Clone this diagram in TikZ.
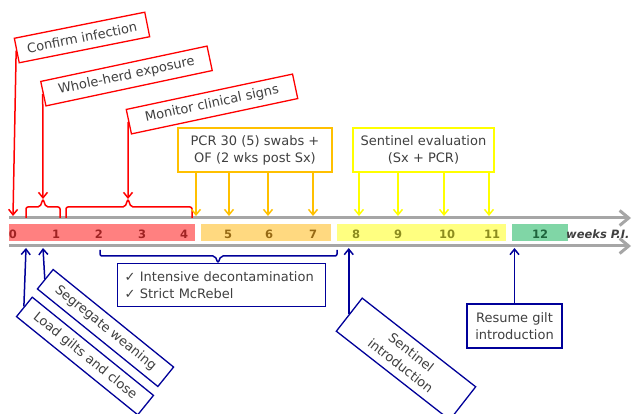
\documentclass[tikz,border=0pt]{standalone}
\usepackage{fontspec}
\setmainfont{DejaVu Sans}
\usetikzlibrary{arrows.meta, positioning}

\definecolor{darktext}{RGB}{64,64,64}
\definecolor{axisgray}{RGB}{166,166,166}
\definecolor{navy}{RGB}{0,0,153}
\definecolor{gold}{RGB}{255,192,0}
\definecolor{lemon}{RGB}{255,255,0}
\definecolor{bandred}{RGB}{255,128,128}
\definecolor{bandorange}{RGB}{255,217,128}
\definecolor{bandyellow}{RGB}{255,255,128}
\definecolor{bandgreen}{RGB}{128,214,166}
\definecolor{numred}{RGB}{160,35,35}
\definecolor{numorange}{RGB}{150,105,20}
\definecolor{numyellow}{RGB}{140,140,30}
\definecolor{numgreen}{RGB}{30,100,60}

\begin{document}
\begin{tikzpicture}[
    x=1pt, y=-1pt,
    >={Straight Barb[length=5.5pt,width=9pt]},
    font=\fontsize{13}{17}\selectfont,
    every node/.style={text=darktext},
    redbox/.style={draw=red, line width=1.3pt, fill=white, inner sep=2pt, minimum height=25pt},
    bluebox/.style={draw=navy, line width=1.3pt, fill=white, inner sep=2pt, align=center},
    goldbox/.style={draw=gold, line width=1.3pt, fill=white, align=center, minimum width=154pt, minimum height=44pt},
    lemonbox/.style={draw=lemon, line width=1.3pt, fill=white, align=center, minimum width=141pt, minimum height=44pt},
    weeknum/.style={font=\bfseries\fontsize{11.5}{13}\selectfont},
    axis/.style={draw=axisgray, line width=3pt, -{Straight Barb[length=9pt,width=15pt]}},
    callred/.style={->, red, line width=1.5pt},
    callgold/.style={->, gold, line width=1.5pt},
    calllemon/.style={->, lemon, line width=1.5pt},
    callnavy/.style={->, navy, line width=1.5pt},
    bracket/.style={line width=1.5pt, rounded corners=2pt}
  ]
    \useasboundingbox (0,0) rectangle (632,414);

    % week bands
    \fill[bandred]    (9,224)   rectangle (195,241);
    \fill[bandorange] (201,224) rectangle (331,241);
    \fill[bandyellow] (337,224) rectangle (506,241);
    \fill[bandgreen]  (512,224) rectangle (568,241);

    % week numbers
    \foreach \w/\x/\c in {0/13/numred, 1/56/numred, 2/99/numred, 3/142/numred, 4/184/numred,
        5/228/numorange, 6/269/numorange, 7/313/numorange,
        8/356/numyellow, 9/398/numyellow, 10/447/numyellow, 11/492/numyellow,
        12/540/numgreen}
      \node[weeknum, text=\c] (w\w) at (\x,234) {\w};
    \node[font=\bfseries\itshape\fontsize{11.5}{13}\selectfont, anchor=west, inner sep=0pt] (weeks) at (566,234) {weeks P.I.};

    % time axes
    \coordinate (upA) at (9,218);
    \coordinate (upB) at (631,218);
    \coordinate (loA) at (9,246);
    \coordinate (loB) at (631,246);
    \coordinate (lowedge) at (0,248);
    \draw[axis] (upA) -- (upB);
    \draw[axis] (loA) -- (loB);

    % red events
    \node[redbox, minimum width=133pt, rotate=11.3] (confirm) at (82,37.5) {Confirm infection};
    \node[redbox, minimum width=170pt, rotate=12] (exposure) at (126.5,76) {Whole-herd exposure};
    \node[redbox, minimum width=170pt, rotate=12] (monitor) at (212,104) {Monitor clinical signs};

    \coordinate (t0) at (13,216);
    \coordinate (tipA) at (43,199);
    \coordinate (tipB) at (128,199);
    \draw[bracket, red] (26,218) -- (26,207) -- (40,207) -- (tipA) -- (46,207) -- (60,207) -- (60,218);
    \draw[bracket, red] (66,218) -- (66,207) -- (125,207) -- (tipB) -- (131,207) -- (192,207) -- (192,218);

    \draw[callred] (confirm.west) -- (t0);
    \draw[callred] (exposure.west) -- (tipA);
    \draw[callred] (monitor.west) -- (tipB);

    % sampling weeks
    \node[goldbox] (pcr) at (255,150) {PCR 30 (5) swabs +\\OF (2 wks post Sx)};
    \foreach \x [count=\i] in {196,229,268,313} {
      \coordinate (o\i) at (\x,216);
      \draw[callgold] (pcr.south -| o\i) -- (o\i);
    }
    \node[lemonbox] (evaluation) at (423.5,150) {Sentinel evaluation\\(Sx + PCR)};
    \foreach \x [count=\i] in {359,398,444,489} {
      \coordinate (y\i) at (\x,216);
      \draw[calllemon] (evaluation.south -| y\i) -- (y\i);
    }

    % blue actions
    \draw[bracket, navy] (100,250) -- (100,256) -- (215,256) -- (218,263) -- (221,256) -- (337,256) -- (337,250);
    \node[bluebox, anchor=north west, minimum width=208pt, minimum height=43pt, text width=194pt, align=left, inner xsep=7pt] (decon) at (117,263)
      {✓ Intensive decontamination\\✓ Strict McRebel};

    \node[bluebox, minimum width=156pt, minimum height=25pt, rotate=-39] (load) at (85,356) {Load gilts and close};
    \node[bluebox, minimum width=155pt, minimum height=25pt, rotate=-39] (segregate) at (105.5,328) {Segregate weaning};
    \node[bluebox, minimum width=144pt, minimum height=42pt, rotate=-38] (sentintro) at (406,359) {Sentinel\\introduction};
    \node[bluebox, minimum width=95pt, minimum height=44pt] (resume) at (514.5,326) {Resume gilt\\introduction};

    \coordinate (b1) at (26,248);
    \coordinate (b2) at (43,248);
    \draw[callnavy] (load.west) -- (b1);
    \draw[callnavy] (segregate.west) -- (b2);
    \draw[callnavy] (sentintro.west) -- (sentintro.west |- lowedge);
    \draw[callnavy] (resume.north) -- (resume.north |- lowedge);
\end{tikzpicture}
\end{document}
